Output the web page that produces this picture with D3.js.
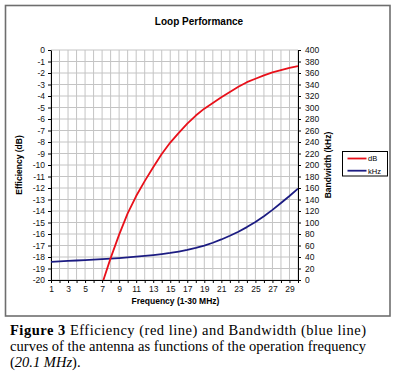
<!DOCTYPE html>
<html><head><meta charset="utf-8">
<script src="https://cdn.jsdelivr.net/npm/d3@7"></script>
<style>
html,body{margin:0;padding:0;background:#fff;}
svg{display:block;}
</style></head>
<body>
<svg id="c" width="396" height="378"></svg>
<script>
// ---- data ----
const freqRed = [7,8,9,10,11,12,13,14,15,16,17,18,19,20,21,22,23,24,25,26,27,28,29,30];
const efficiencyDb = [-20.35,-18.1,-16.05,-14.2,-12.7,-11.4,-10.2,-9.05,-8.05,-7.2,-6.4,-5.7,-5.1,-4.6,-4.1,-3.65,-3.2,-2.8,-2.5,-2.2,-1.95,-1.75,-1.55,-1.4];
const freqBlue = [1,2,3,4,5,6,7,8,9,10,11,12,13,14,15,16,17,18,19,20,21,22,23,24,25,26,27,28,29,30];
const bandwidthKhz = [31.5,32.3,33.1,33.9,34.7,35.5,36.3,37.2,38.2,39.3,40.5,41.8,43.3,45,47,49.5,52.3,55.8,59.8,64.8,70.5,77,84,92,101,111,122,134,146,159];
const leftTicks = d3.range(-20, 1, 1);
const rightTicks = d3.range(0, 401, 20);
const xTicks = d3.range(1, 31, 1);
const seriesNames = ["dB", "kHz"];

const svg = d3.select("#c");
const L = 51, R = 298, T = 50, B = 280;
const x = d3.scaleLinear().domain([1, 30]).range([L, R]);
const yL = d3.scaleLinear().domain([-20, 0]).range([B, T]);
const yR = d3.scaleLinear().domain([0, 400]).range([B, T]);

// frame
svg.append("rect").attr("x", 5.5).attr("y", 5.5).attr("width", 384.5).attr("height", 310.5)
  .attr("fill", "#fff").attr("stroke", "#6e6e6e").attr("stroke-width", 1.6);

// title
svg.append("text").attr("x", 199).attr("y", 24.5).attr("text-anchor", "middle")
  .attr("font-family", "Liberation Sans, Arial, sans-serif").attr("font-weight", "bold")
  .attr("font-size", 10).text("Loop Performance");

// gridlines
const g = svg.append("g");
g.selectAll(".gv").data(xTicks).join("line")
  .attr("x1", d => x(d)).attr("x2", d => x(d)).attr("y1", T).attr("y2", B)
  .attr("stroke", "#c4c4c4").attr("stroke-width", 1);
g.selectAll(".gh").data(leftTicks).join("line")
  .attr("x1", L).attr("x2", R).attr("y1", d => yL(d)).attr("y2", d => yL(d))
  .attr("stroke", "#c4c4c4").attr("stroke-width", 1);

const fontAx = "Liberation Sans, Arial, sans-serif";
function styleAxis(sel) {
  sel.selectAll("path").attr("stroke", "#000").attr("stroke-width", 1);
  sel.selectAll("line").attr("stroke", "#000");
  sel.selectAll("text").attr("font-family", fontAx).attr("font-size", 8.5).attr("fill", "#111");
}

// axes
const axL = svg.append("g").attr("transform", `translate(${L},0)`)
  .call(d3.axisLeft(yL).tickValues(leftTicks).tickSize(3).tickSizeOuter(0).tickPadding(3).tickFormat(d => String(d)));
styleAxis(axL);
const axR = svg.append("g").attr("transform", `translate(${R},0)`)
  .call(d3.axisRight(yR).tickValues(rightTicks).tickSize(3).tickSizeOuter(0).tickPadding(4).tickFormat(d => String(d)));
styleAxis(axR);
const axB = svg.append("g").attr("transform", `translate(0,${B})`)
  .call(d3.axisBottom(x).tickValues(xTicks).tickSize(3).tickSizeOuter(0).tickPadding(3).tickFormat(d => d % 2 ? String(d) : ""));
styleAxis(axB);

// axis titles
svg.append("text").attr("transform", `translate(22,${(T + B) / 2}) rotate(-90)`)
  .attr("text-anchor", "middle").attr("font-family", fontAx).attr("font-weight", "bold")
  .attr("font-size", 8.5).text("Efficiency (dB)");
svg.append("text").attr("transform", `translate(331,${(T + B) / 2}) rotate(-90)`)
  .attr("text-anchor", "middle").attr("font-family", fontAx).attr("font-weight", "bold")
  .attr("font-size", 8.5).text("Bandwidth (kHz)");
svg.append("text").attr("x", (L + R) / 2 + 1).attr("y", 304)
  .attr("text-anchor", "middle").attr("font-family", fontAx).attr("font-weight", "bold")
  .attr("font-size", 8.5).text("Frequency (1-30 MHz)");

// clip
svg.append("clipPath").attr("id", "pc").append("rect")
  .attr("x", L).attr("y", T).attr("width", R - L).attr("height", B - T);

const lineRed = d3.line().x((d, i) => x(freqRed[i])).y(d => yL(d));
const lineBlue = d3.line().x((d, i) => x(freqBlue[i])).y(d => yR(d));

svg.append("path").datum(bandwidthKhz).attr("d", lineBlue).attr("clip-path", "url(#pc)")
  .attr("fill", "none").attr("stroke", "#1c1c82").attr("stroke-width", 1.8).attr("stroke-linejoin", "round");
svg.append("path").datum(efficiencyDb).attr("d", lineRed).attr("clip-path", "url(#pc)")
  .attr("fill", "none").attr("stroke", "#e8101a").attr("stroke-width", 1.8).attr("stroke-linejoin", "round");

// legend
const lg = svg.append("g");
lg.append("rect").attr("x", 342.5).attr("y", 151.5).attr("width", 45).attr("height", 24.5)
  .attr("fill", "#fff").attr("stroke", "#000").attr("stroke-width", 1);
const lcol = ["#e8101a", "#1c1c82"];
seriesNames.forEach((n, i) => {
  const yy = 158.5 + i * 12.2;
  lg.append("line").attr("x1", 347.5).attr("x2", 366.5).attr("y1", yy).attr("y2", yy)
    .attr("stroke", lcol[i]).attr("stroke-width", 1.8);
  lg.append("text").attr("x", 368).attr("y", yy + 2.8).attr("font-family", fontAx)
    .attr("font-size", 7.5).text(n);
});

// caption
const serif = "Liberation Serif, Times New Roman, serif";
const c1 = svg.append("text").attr("x", 10).attr("y", 335).attr("font-family", serif)
  .attr("font-size", 14.5).attr("textLength", 356).attr("lengthAdjust", "spacing");
c1.append("tspan").attr("font-weight", "bold").text("Figure 3");
c1.append("tspan").text(" Efficiency (red line) and Bandwidth (blue line)");
svg.append("text").attr("x", 10).attr("y", 351).attr("font-family", serif)
  .attr("font-size", 14.5).attr("textLength", 356).attr("lengthAdjust", "spacing")
  .text("curves of the antenna as functions of the operation frequency");
const c3 = svg.append("text").attr("x", 10).attr("y", 367).attr("font-family", serif).attr("font-size", 14.5);
c3.append("tspan").text("(");
c3.append("tspan").attr("font-style", "italic").text("20.1 MHz");
c3.append("tspan").text(").");
</script>
</body></html>
